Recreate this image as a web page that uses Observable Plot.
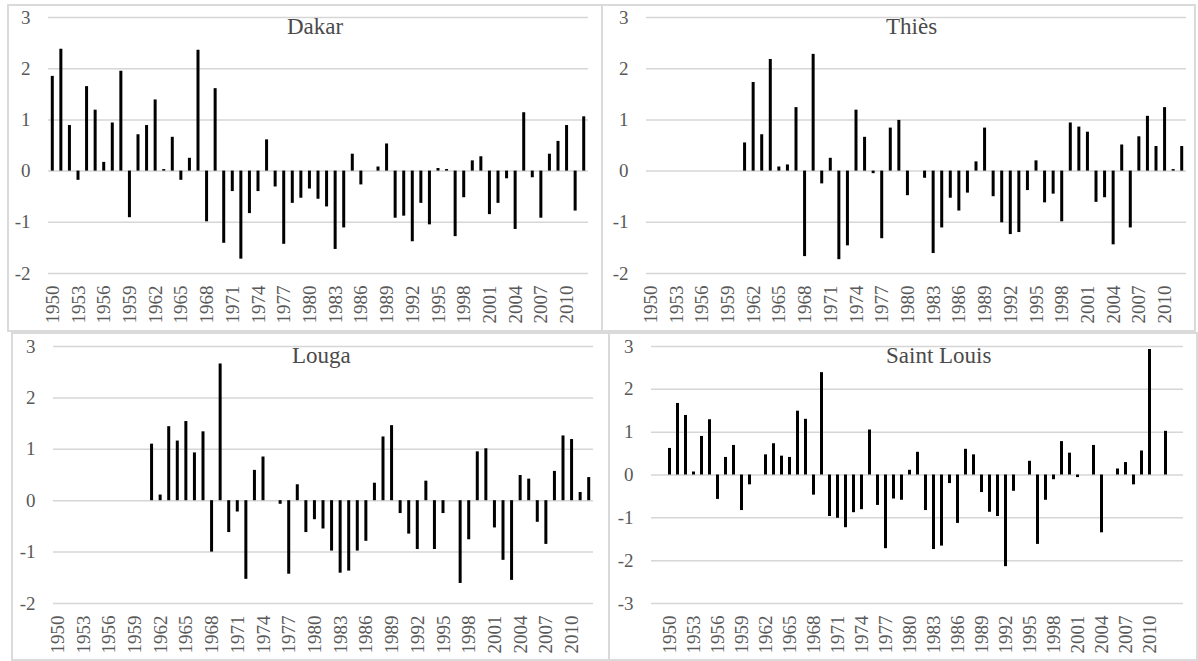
<!DOCTYPE html>
<html>
<head>
<meta charset="utf-8">
<script src="https://cdn.jsdelivr.net/npm/d3@7"></script>
<script src="https://cdn.jsdelivr.net/npm/@observablehq/plot@0.6"></script>
<style>
  html, body { margin: 0; padding: 0; background: #fff; }
  body { width: 1198px; height: 661px; position: relative; overflow: hidden; font-family: "Liberation Serif", "DejaVu Serif", serif; }
  .box { position: absolute; box-sizing: border-box; border: 2px solid #dadada; }
  .chart { position: absolute; }
  .chart svg { overflow: visible; }
  .title { position: absolute; font-size: 23px; line-height: 23px; color: #4a4a4a; white-space: nowrap; font-family: "Liberation Serif", "DejaVu Serif", serif; }
</style>
</head>
<body>
<script>
// ---- categories ----
const years = [1950,1951,1952,1953,1954,1955,1956,1957,1958,1959,
  1960,1961,1962,1963,1964,1965,1966,1967,1968,1969,
  1970,1971,1972,1973,1974,1975,1976,1977,1978,1979,
  1980,1981,1982,1983,1984,1985,1986,1987,1988,1989,
  1990,1991,1992,1993,1994,1995,1996,1997,1998,1999,
  2000,2001,2002,2003,2004,2005,2006,2007,2008,2009,
  2010,2011,2012];

// ---- tick labels ----
const yearTicks = [1950,1953,1956,1959,1962,1965,1968,1971,1974,1977,1980,1983,1986,1989,1992,1995,1998,2001,2004,2007,2010];
const yTicksA = [-2,-1,0,1,2,3];
const yTicksB = [-3,-2,-1,0,1,2,3];

// ---- series ----
const dakar = [1.85,2.38,0.89,-0.18,1.65,1.19,0.17,0.94,1.95,-0.91,
  0.71,0.89,1.39,0.03,0.66,-0.18,0.25,2.36,-0.99,1.61,
  -1.41,-0.40,-1.72,-0.83,-0.40,0.61,-0.31,-1.43,-0.63,-0.53,
  -0.35,-0.55,-0.70,-1.53,-1.11,0.33,-0.27,0,0.08,0.53,
  -0.92,-0.88,-1.38,-0.63,-1.05,0.05,0.03,-1.28,-0.52,0.20,
  0.28,-0.85,-0.63,-0.15,-1.14,1.14,-0.13,-0.92,0.33,0.58,
  0.89,-0.78,1.06];

const thies = [null,null,null,null,null,null,null,null,null,null,
  null,0.55,1.73,0.71,2.18,0.08,0.12,1.24,-1.67,2.28,
  -0.25,0.25,-1.73,-1.46,1.19,0.66,-0.05,-1.32,0.84,0.99,
  -0.48,0,-0.14,-1.61,-1.11,-0.53,-0.78,-0.43,0.18,0.84,
  -0.50,-1.01,-1.24,-1.20,-0.38,0.20,-0.62,-0.45,-0.99,0.94,
  0.86,0.76,-0.61,-0.52,-1.44,0.51,-1.11,0.67,1.07,0.48,
  1.24,0.03,0.48];

const louga = [null,null,null,null,null,null,null,null,null,null,
  null,1.10,0.11,1.44,1.16,1.54,0.93,1.34,-1.00,2.66,
  -0.62,-0.22,-1.53,0.59,0.85,0,-0.07,-1.43,0.31,-0.62,
  -0.37,-0.55,-0.98,-1.41,-1.37,-0.98,-0.79,0.34,1.24,1.46,
  -0.25,-0.65,-0.95,0.38,-0.95,-0.25,0,-1.61,-0.76,0.95,
  1.01,-0.53,-1.16,-1.55,0.49,0.42,-0.42,-0.85,0.57,1.26,
  1.19,0.16,0.45];

const saintLouis = [0.62,1.67,1.39,0.07,0.90,1.29,-0.57,0.41,0.69,-0.83,
  -0.23,0,0.47,0.73,0.44,0.41,1.49,1.30,-0.47,2.39,
  -0.97,-1.01,-1.23,-0.88,-0.81,1.05,-0.71,-1.72,-0.56,-0.59,
  0.11,0.53,-0.83,-1.74,-1.66,-0.20,-1.13,0.60,0.47,-0.41,
  -0.87,-0.97,-2.14,-0.38,0,0.32,-1.62,-0.59,-0.11,0.78,
  0.51,-0.06,0,0.69,-1.35,0,0.14,0.29,-0.23,0.56,
  2.93,0,1.02];

const stations = ["Dakar", "Thiès", "Louga", "Saint Louis"];
const seriesList = [dakar, thies, louga, saintLouis];
const yDomains = [[-2,3],[-2,3],[-2,3],[-3,3]];
const yTickSets = [yTicksA, yTicksA, yTicksA, yTicksB];

// ---- layout (page pixels) ----
const layout = [
  {box:[7,4,596,328],   svg:[7,4,595,327],   m:[13,14,58,41], title:[287,15]},
  {box:[601,4,595,328], svg:[602,4,593,327], m:[13,9,58,44],  title:[886,15]},
  {box:[11,332,599,329],svg:[11,332,598,328],m:[14,16,57,42], title:[292,344]},
  {box:[608,332,590,329],svg:[609,332,588,328],m:[14,14,57,42], title:[886,344]}
];

const serifStack = '"Liberation Serif", "DejaVu Serif", serif';

stations.forEach((name, k) => {
  const L = layout[k];
  const box = document.createElement("div");
  box.className = "box";
  Object.assign(box.style, {left: L.box[0]+"px", top: L.box[1]+"px", width: L.box[2]+"px", height: L.box[3]+"px"});
  document.body.appendChild(box);

  const data = years.map((yr, i) => ({year: yr, value: seriesList[k][i]})).filter(d => d.value != null);

  const chart = Plot.plot({
    width: L.svg[2],
    height: L.svg[3],
    marginTop: L.m[0], marginRight: L.m[1], marginBottom: L.m[2], marginLeft: L.m[3],
    style: {fontFamily: serifStack, fontSize: "19px", color: "#595959", background: "transparent", overflow: "visible"},
    x: {type: "band", domain: years, paddingInner: 0.65, paddingOuter: 0.325},
    y: {domain: yDomains[k]},
    marks: [
      Plot.ruleY(yTickSets[k], {stroke: "#d6d6d6", strokeWidth: 1.5}),
      Plot.barY(data, {x: "year", y: "value", fill: "#000"}),
      Plot.axisX({ticks: yearTicks, tickRotate: -90, tickSize: 0, tickPadding: 12, tickFormat: d => String(d), label: null, fontFamily: serifStack}),
      Plot.axisY({ticks: yTickSets[k], tickSize: 0, tickPadding: 18, tickFormat: d => String(d), label: null, fontFamily: serifStack})
    ]
  });
  chart.style.fontFamily = serifStack;
  chart.querySelectorAll("text, g").forEach(el => el.setAttribute("font-family", serifStack));
  const wrap = document.createElement("div");
  wrap.className = "chart";
  Object.assign(wrap.style, {left: L.svg[0]+"px", top: L.svg[1]+"px"});
  wrap.appendChild(chart);
  document.body.appendChild(wrap);

  const t = document.createElement("div");
  t.className = "title";
  t.textContent = name;
  Object.assign(t.style, {left: L.title[0]+"px", top: L.title[1]+"px"});
  document.body.appendChild(t);
});
</script>
</body>
</html>
